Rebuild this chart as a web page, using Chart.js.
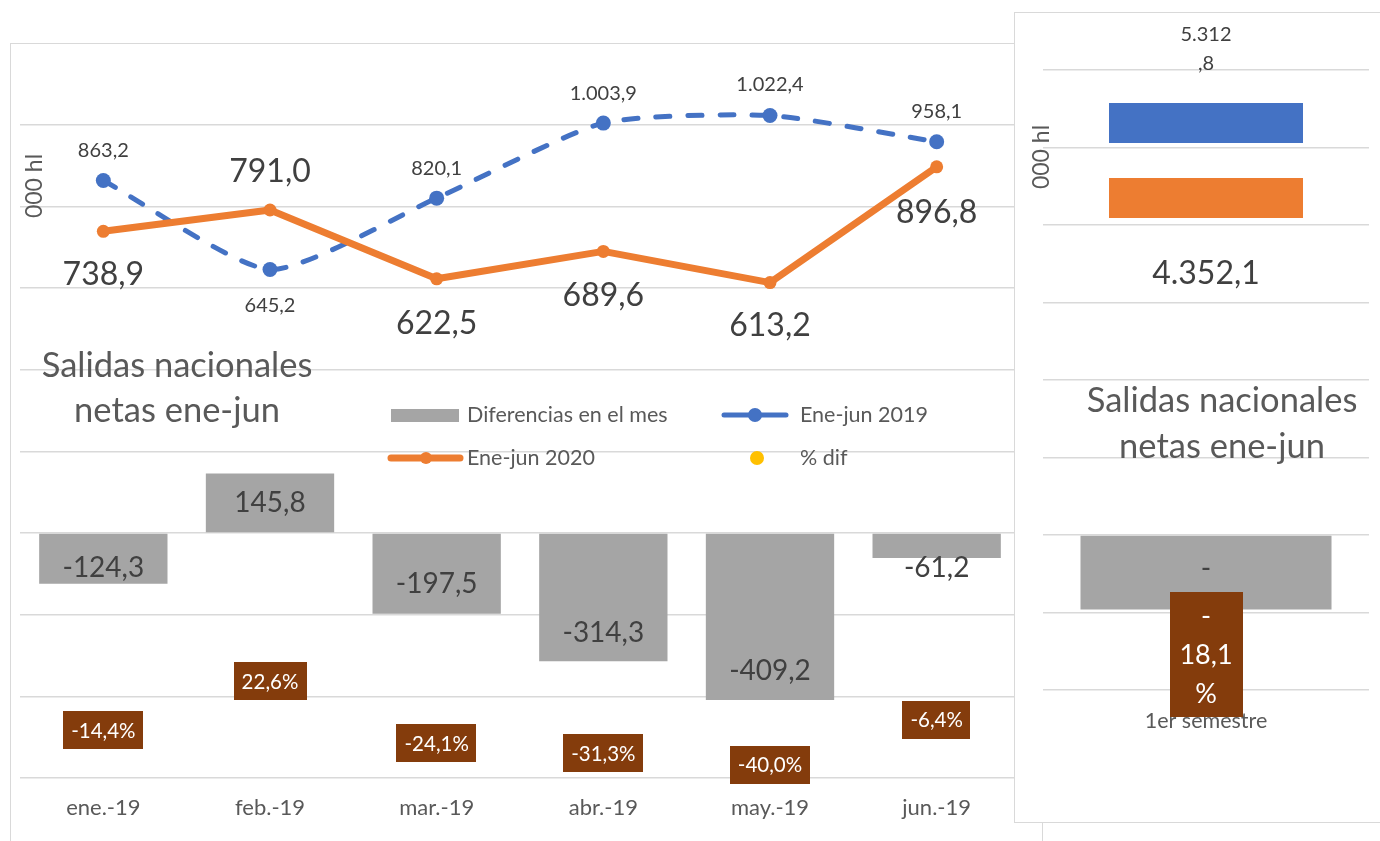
<!DOCTYPE html>
<html>
<head>
<meta charset="utf-8">
<title>Salidas nacionales netas ene-jun</title>
<script src="https://cdn.jsdelivr.net/npm/chart.js@4.4.1/dist/chart.umd.min.js"></script>
<style>
  body { margin: 0; width: 1380px; height: 841px; overflow: hidden; position: relative; background: #fff; }
  #marcoIzq { position: absolute; left: 10px; top: 43px; width: 1033px; height: 830px; border: 1px solid #d9d9d9; box-sizing: border-box; }
  #cajaIzq { position: absolute; left: 10px; top: 43px; width: 1032px; height: 800px; }
  #marcoDer { position: absolute; left: 1014px; top: 12px; width: 400px; height: 811px; border: 1px solid #d9d9d9; box-sizing: border-box; background: #fff; }
  #cajaDer { position: absolute; left: 1014px; top: 12px; width: 366px; height: 810px; }
</style>
</head>
<body>
<div id="marcoIzq"></div>
<div id="cajaIzq"><canvas id="mensual"></canvas></div>
<div id="marcoDer"></div>
<div id="cajaDer"><canvas id="semestre"></canvas></div>

<script>
// Datos mensuales (000 hl)
var meses = ['ene.-19', 'feb.-19', 'mar.-19', 'abr.-19', 'may.-19', 'jun.-19'];
var difMes = [-124.3, 145.8, -197.5, -314.3, -409.2, -61.2];
var ene2019 = [863.2, 645.2, 820.1, 1003.9, 1022.4, 958.1];
var ene2020 = [738.9, 791.0, 622.5, 689.6, 613.2, 896.8];
var pctDif = [-14.4, 22.6, -24.1, -31.3, -40.0, -6.4];

// Datos del semestre
var semestre = ['1er semestre'];
var total2019 = [5312.8];
var total2020 = [4352.1];
var difTotal = [-960.7];
var pctTotal = [-18.1];

var FUENTE = 'Lato, "Noto Sans", sans-serif';
var GRIS_TXT = '#595959';
var OSCURO = '#404040';
var AZUL = '#4472C4', NARANJA = '#ED7D31', GRIS = '#A5A5A5', MARRON = '#843C0C', AMARILLO = '#FFC000';

Chart.defaults.font.family = FUENTE;

// formato español: 1.003,9
function fmt(v) {
    var s = Math.abs(v).toFixed(1).split('.');
    var ent = s[0].replace(/\B(?=(\d{3})+(?!\d))/g, '.');
    return (v < 0 ? '-' : '') + ent + ',' + s[1];
}

// Etiquetas de datos (estilo Excel)
var etiquetas = {
    id: 'etiquetas',
    afterDatasetsDraw: function (chart) {
        var ctx = chart.ctx;
        chart.data.datasets.forEach(function (ds, di) {
            var o = ds.lbl;
            if (!o) return;
            chart.getDatasetMeta(di).data.forEach(function (el, i) {
                var lineas = [].concat(o.fmt(ds.data[i]));
                var dy = Array.isArray(o.dy) ? o.dy[i] : o.dy;
                var x = el.x, y = el.y + dy;
                var lh = o.lineH || o.size * 1.2;
                var h = lh * lineas.length;
                ctx.save();
                ctx.font = o.size + 'px ' + FUENTE;
                ctx.textAlign = 'center';
                ctx.textBaseline = 'middle';
                if (o.caja) {
                    var w = o.cajaW || Math.max.apply(null, lineas.map(function (t) { return ctx.measureText(t).width; })) + 2 * o.padX;
                    var bh = o.cajaH || h;
                    ctx.fillStyle = o.caja;
                    ctx.fillRect(Math.round(x - w / 2), Math.round(y - bh / 2), Math.round(w), Math.round(bh));
                }
                ctx.fillStyle = o.color;
                lineas.forEach(function (t, k) {
                    ctx.fillText(t, x, y - h / 2 + lh * (k + 0.5) + 1);
                });
                ctx.restore();
            });
        });
    }
};

// titulo, leyenda y rotulo del eje dibujados a mano
function texto(ctx, t, x, y, size, color, align) {
    ctx.font = size + 'px ' + FUENTE;
    ctx.fillStyle = color;
    ctx.textAlign = align || 'center';
    ctx.textBaseline = 'middle';
    ctx.fillText(t, x, y);
}

function rotuloEje(ctx, x, y) {
    ctx.save();
    ctx.translate(x, y);
    ctx.rotate(-Math.PI / 2);
    texto(ctx, '000 hl', 0, 0, 23, GRIS_TXT);
    ctx.restore();
}

var TAM_LEY = 21.5;
var TAM_TIT = 34.5;

var extrasIzq = {
    id: 'extrasIzq',
    afterDraw: function (chart) {
        var ctx = chart.ctx;
        ctx.save();
        texto(ctx, 'Salidas nacionales', 167, 323, TAM_TIT, GRIS_TXT);
        texto(ctx, 'netas ene-jun', 167, 368, TAM_TIT, GRIS_TXT);
        rotuloEje(ctx, 25, 143);

        // leyenda
        ctx.fillStyle = GRIS;
        ctx.fillRect(381, 366, 68, 13);
        texto(ctx, 'Diferencias en el mes', 457, 372, TAM_LEY, GRIS_TXT, 'left');

        ctx.lineCap = 'round';
        ctx.strokeStyle = AZUL; ctx.lineWidth = 5;
        ctx.beginPath(); ctx.moveTo(714, 372); ctx.lineTo(776, 372); ctx.stroke();
        ctx.fillStyle = AZUL;
        ctx.beginPath(); ctx.arc(745, 372, 7, 0, 2 * Math.PI); ctx.fill();
        texto(ctx, 'Ene-jun 2019', 790, 372, TAM_LEY, GRIS_TXT, 'left');

        ctx.strokeStyle = NARANJA; ctx.lineWidth = 7;
        ctx.beginPath(); ctx.moveTo(381, 415); ctx.lineTo(450, 415); ctx.stroke();
        ctx.fillStyle = NARANJA;
        ctx.beginPath(); ctx.arc(416, 415, 6, 0, 2 * Math.PI); ctx.fill();
        texto(ctx, 'Ene-jun 2020', 457, 415, TAM_LEY, GRIS_TXT, 'left');

        ctx.fillStyle = AMARILLO;
        ctx.beginPath(); ctx.arc(747, 415, 7, 0, 2 * Math.PI); ctx.fill();
        texto(ctx, '% dif', 790, 415, TAM_LEY, GRIS_TXT, 'left');
        ctx.restore();
    }
};

var extrasDer = {
    id: 'extrasDer',
    afterDraw: function (chart) {
        var ctx = chart.ctx;
        ctx.save();
        texto(ctx, 'Salidas nacionales', 208, 389, TAM_TIT, GRIS_TXT);
        texto(ctx, 'netas ene-jun', 208, 435, TAM_TIT, GRIS_TXT);
        rotuloEje(ctx, 28, 145);
        ctx.restore();
    }
};

var rejilla = { color: '#d9d9d9', lineWidth: 1.5, drawTicks: false };

// Grafico mensual
new Chart(document.getElementById('mensual'), {
    type: 'bar',
    data: {
        labels: meses,
        datasets: [{
            label: 'Diferencias en el mes',
            data: difMes,
            backgroundColor: GRIS,
            barPercentage: 0.77,
            categoryPercentage: 1,
            order: 3,
            lbl: { fmt: fmt, size: 28, color: OSCURO, dy: [-17, 29, -31, -29, -30, 9] }
        }, {
            type: 'line',
            label: 'Ene-jun 2019',
            data: ene2019,
            borderColor: AZUL,
            backgroundColor: AZUL,
            borderWidth: 5,
            borderDash: [14, 18],
            borderCapStyle: 'round',
            tension: 0.2,
            pointRadius: 7.5,
            pointBorderWidth: 0,
            order: 2,
            lbl: { fmt: fmt, size: 20, color: OSCURO, dy: [-31, 35, -31, -31, -32, -31] }
        }, {
            type: 'line',
            label: 'Ene-jun 2020',
            data: ene2020,
            borderColor: NARANJA,
            backgroundColor: NARANJA,
            borderWidth: 7,
            borderCapStyle: 'round',
            borderJoinStyle: 'round',
            tension: 0,
            pointRadius: 6.5,
            pointBorderWidth: 0,
            order: 1,
            lbl: { fmt: fmt, size: 32, color: OSCURO, dy: [42, -39, 44, 43, 42, 45] }
        }, {
            type: 'line',
            label: '% dif',
            data: pctDif,
            yAxisID: 'y2',
            showLine: false,
            pointRadius: 0,
            backgroundColor: AMARILLO,
            order: 0,
            lbl: { fmt: function (v) { return fmt(v) + '%'; }, size: 20.5, color: '#fff', dy: 0, caja: MARRON, padX: 8, cajaH: 38 }
        }]
    },
    options: {
        responsive: true,
        maintainAspectRatio: false,
        animation: false,
        events: [],
        layout: { autoPadding: false, padding: { left: 10, right: 22, top: 0, bottom: 0 } },
        plugins: { legend: { display: false }, tooltip: { enabled: false } },
        scales: {
            x: {
                grid: { display: false, drawTicks: false },
                border: { display: false },
                ticks: { color: GRIS_TXT, font: { size: 22 }, padding: 17 },
                afterFit: function (s) { s.height = 65; }
            },
            y: {
                min: -600, max: 1200,
                ticks: { stepSize: 200, display: false },
                grid: rejilla,
                border: { display: false },
                afterFit: function (s) { s.width = 0; }
            },
            y2: { min: -50, max: 500, display: false }
        }
    },
    plugins: [etiquetas, extrasIzq]
});

// marcadores rectangulares del semestre
function marcador(color) {
    var c = document.createElement('canvas');
    c.width = 194; c.height = 40;
    var g = c.getContext('2d');
    g.fillStyle = color;
    g.fillRect(0, 0, 194, 40);
    return c;
}

// Grafico del semestre
new Chart(document.getElementById('semestre'), {
    type: 'bar',
    data: {
        labels: semestre,
        datasets: [{
            label: 'Diferencias en el mes',
            data: difTotal,
            backgroundColor: GRIS,
            barPercentage: 0.77,
            categoryPercentage: 1,
            order: 3,
            lbl: { fmt: function (v) { var s = fmt(v); return [s.slice(0, 1), s.slice(1)]; }, size: 28, lineH: 36, color: OSCURO, dy: -23 }
        }, {
            type: 'line',
            label: 'Ene-jun 2019',
            data: total2019,
            showLine: false,
            pointStyle: marcador(AZUL),
            pointRadius: 3,
            order: 2,
            lbl: { fmt: function (v) { var s = fmt(v); var k = s.indexOf(','); return [s.slice(0, k), s.slice(k)]; }, size: 20, lineH: 29, color: OSCURO, dy: -75 }
        }, {
            type: 'line',
            label: 'Ene-jun 2020',
            data: total2020,
            showLine: false,
            pointStyle: marcador(NARANJA),
            pointRadius: 3,
            order: 1,
            lbl: { fmt: fmt, size: 32, color: OSCURO, dy: 75 }
        }, {
            type: 'line',
            label: '% dif',
            data: pctTotal,
            yAxisID: 'y2',
            showLine: false,
            pointRadius: 0,
            order: 0,
            lbl: { fmt: function (v) { var s = fmt(v); return [s.slice(0, 1), s.slice(1), '%']; }, size: 27, lineH: 39, color: '#fff', dy: 0, caja: MARRON, cajaW: 73, cajaH: 125 }
        }]
    },
    options: {
        responsive: true,
        maintainAspectRatio: false,
        animation: false,
        events: [],
        layout: { autoPadding: false, padding: { left: 29, right: 11, top: 58, bottom: 0 } },
        plugins: { legend: { display: false }, tooltip: { enabled: false } },
        scales: {
            x: {
                grid: { display: false, drawTicks: false },
                border: { display: false },
                ticks: { color: GRIS_TXT, font: { size: 21.5 }, padding: 18 },
                afterFit: function (s) { s.height = 132; }
            },
            y: {
                min: -2000, max: 6000,
                ticks: { stepSize: 1000, display: false },
                grid: rejilla,
                border: { display: false },
                afterFit: function (s) { s.width = 0; }
            },
            y2: { min: -50, max: 500, display: false }
        }
    },
    plugins: [etiquetas, extrasDer]
});
</script>
</body>
</html>
